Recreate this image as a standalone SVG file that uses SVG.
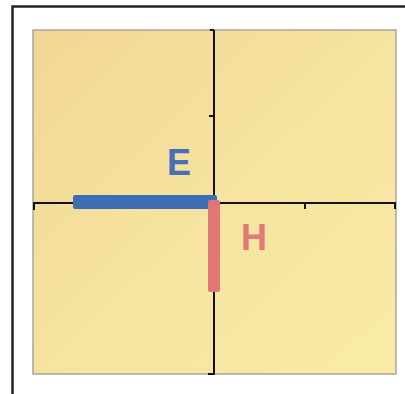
<svg xmlns="http://www.w3.org/2000/svg" width="405" height="394" viewBox="0 0 405 394">
<style>
.axis{stroke:#111;stroke-width:2;fill:none}
.lbl{font-family:"Liberation Sans",Arial,sans-serif;font-weight:bold;font-size:36px}
</style>
<defs>
<linearGradient id="bg" x1="0" y1="0" x2="1" y2="1">
<stop offset="0" stop-color="#f1d694"/>
<stop offset="0.5" stop-color="#f6e3a0"/>
<stop offset="1" stop-color="#f9eba6"/>
</linearGradient>
</defs>
<rect width="405" height="394" fill="#fff"/>
<g id="frame">
<path d="M12.5,394 V6.5 H405" stroke="#222" stroke-width="2.5" fill="none"/>
</g>
<g id="plane">
<rect x="33" y="30" width="363" height="344" fill="url(#bg)" stroke="#a9a69a" stroke-width="1.5"/>
</g>
<g id="axes">
<line class="axis" x1="214" y1="30" x2="214" y2="375"/>
<line class="axis" x1="33" y1="203" x2="396" y2="203"/>
<line class="axis" x1="210" y1="30" x2="214" y2="30"/>
<line class="axis" x1="209" y1="116" x2="214" y2="116"/>
<line class="axis" x1="208" y1="374" x2="214" y2="374"/>
<line class="axis" x1="124" y1="203" x2="124" y2="209"/>
<line class="axis" x1="305" y1="203" x2="305" y2="209"/>
<line class="axis" x1="34" y1="203" x2="34" y2="210"/>
<line class="axis" x1="395" y1="203" x2="395" y2="209"/>
</g>
<g id="E">
<rect x="73" y="195" width="144" height="14" rx="2" fill="#3f6db3"/>
<text class="lbl" x="167" y="175" fill="#4a6fb4">E</text>
</g>
<g id="H">
<rect x="208" y="200" width="12" height="92" rx="2" fill="#e07676"/>
<text class="lbl" x="241" y="250" fill="#e07a78">H</text>
</g>
</svg>
